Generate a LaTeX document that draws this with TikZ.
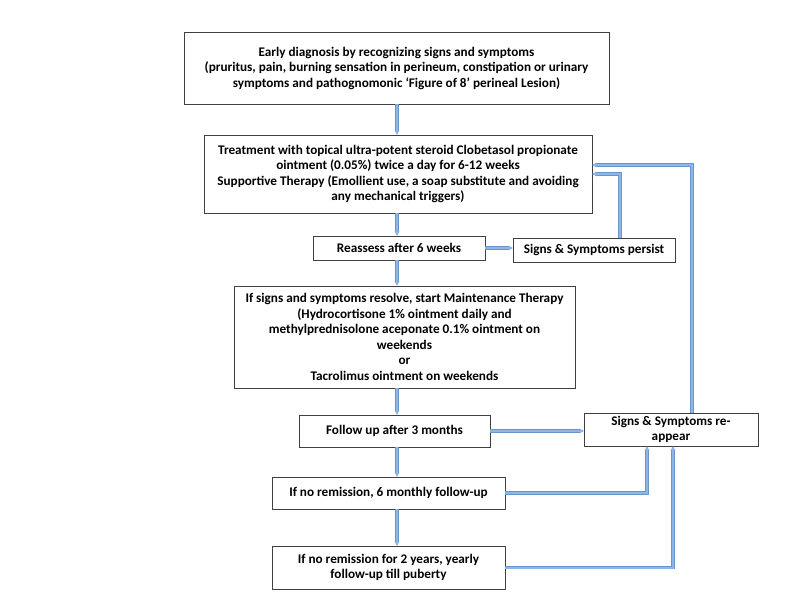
\documentclass[tikz,border=0pt]{standalone}
\usepackage{fontspec}
\setmainfont{Carlito}
\usepackage{tikz}
\usetikzlibrary{arrows.meta,shadows}

\definecolor{linkout}{HTML}{6A95CC}
\definecolor{linkin}{HTML}{92B6E3}
\definecolor{boxline}{HTML}{404040}

\begin{document}
\begin{tikzpicture}[
        x = 1pt, y = -1pt, % pixel grid of the chart
        font = \fontsize{13.2}{15.5}\selectfont\bfseries,
        >={Stealth[length=4.5pt, width=4.5pt]}
    ]
    \tikzstyle{step box}=[
        draw = boxline,
        line width = 0.8pt,
        fill = white,
        align = center,
        inner sep = 2pt,
        drop shadow = {shadow xshift=1pt, shadow yshift=-1.2pt, opacity=0.3}
    ]

    \tikzstyle{link}=[
        draw = linkin,
        line width = 2pt,
        preaction = {draw = linkout, line width = 3.4pt}
    ]

    \useasboundingbox (0, 0) rectangle (800, 600);

    \coordinate (spine) at (397, 0);

	\node[step box, minimum width=425pt, minimum height=72pt] (diag) at (396.5, 68)
	    {Early diagnosis by recognizing signs and symptoms\\
	     (pruritus, pain, burning sensation in perineum, constipation or urinary\\
	     symptoms and pathognomonic ‘Figure of 8’ perineal Lesion)};
	\node[step box, minimum width=388pt, minimum height=78pt] (treat) at (398, 174)
	    {Treatment with topical ultra-potent steroid Clobetasol propionate\\
	     ointment (0.05\%) twice a day for 6-12 weeks\\
	     Supportive Therapy (Emollient use, a soap substitute and avoiding\\
	     any mechanical triggers)};
	\node[step box, minimum width=172pt, minimum height=24pt] (reassess) at (399, 248)
	    {Reassess after 6 weeks};
	\node[step box, minimum width=162pt, minimum height=24pt] (persist) at (594, 250)
	    {Signs \& Symptoms persist};
	\node[step box, minimum width=341pt, minimum height=102pt] (maint) at (404.5, 337)
	    {If signs and symptoms resolve, start Maintenance Therapy\\
	     (Hydrocortisone 1\% ointment daily and\\
	     methylprednisolone aceponate 0.1\% ointment on\\
	     weekends\\
	     or\\
	     Tacrolimus ointment on weekends};
	\node[step box, minimum width=191pt, minimum height=32pt] (follow) at (394.5, 431)
	    {Follow up after 3 months};
	\node[step box, minimum width=174pt, minimum height=33pt] (reappear) at (671, 429.5)
	    {Signs \& Symptoms re-\\appear};
	\node[step box, minimum width=233pt, minimum height=32pt] (sixmonth) at (388.5, 493)
	    {If no remission, 6 monthly follow-up};
	\node[step box, minimum width=233pt, minimum height=43pt] (twoyear) at (388.5, 567.5)
	    {If no remission for 2 years, yearly\\follow-up till puberty};

	% main column
	\draw[link, ->] (diag.south -| spine) -- (treat.north -| spine);
	\draw[link, ->] (treat.south -| spine) -- (reassess.north -| spine);
	\draw[link, ->] (reassess.south -| spine) -- (maint.north -| spine);
	\draw[link, ->] (maint.south -| spine) -- (follow.north -| spine);
	\draw[link, ->] (follow.south -| spine) -- (sixmonth.north -| spine);
	\draw[link, ->] (sixmonth.south -| spine) -- (twoyear.north -| spine);

	% loops back to treatment
	\draw[link, ->] (reassess.east) -- (reassess.east -| persist.west);
	\draw[link, ->] ([xshift=26pt]persist.north) |- (treat.east);
	\draw[link, ->] (follow.east) -- (follow.east -| reappear.west);
	\draw[link, ->] ([xshift=21pt]reappear.north) |- ([yshift=9pt]treat.east);
	\draw[link, ->] (sixmonth.east) -| ([xshift=-24pt]reappear.south);
	\draw[link, ->] (twoyear.east) -| ([xshift=2pt]reappear.south);

	\end{tikzpicture}
\end{document}
